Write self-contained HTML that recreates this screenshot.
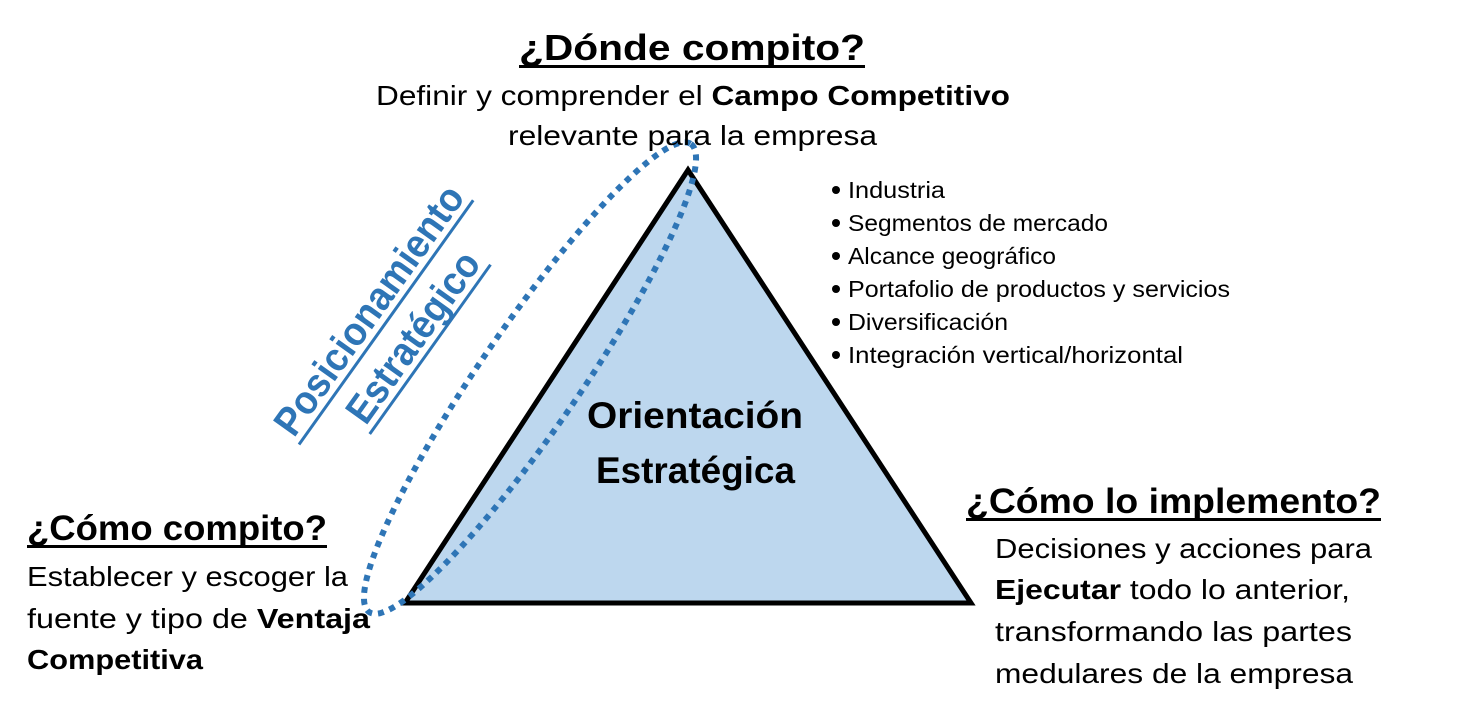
<!DOCTYPE html>
<html><head><meta charset="utf-8"><style>
html,body{margin:0;padding:0;background:#fff;}
svg{display:block;}
text{font-family:"Liberation Sans",sans-serif;fill:#000;}
</style></head><body>
<svg width="1468" height="715" viewBox="0 0 1468 715" xmlns="http://www.w3.org/2000/svg">
<polygon points="688,170 405,603 971,603" fill="#bdd7ee" stroke="#000" stroke-width="5" stroke-linejoin="miter"/>
<ellipse cx="530" cy="378" rx="284" ry="50" transform="rotate(-55.5 530 378)" fill="none" stroke="#2e75b6" stroke-width="6" stroke-dasharray="6 6"/>

<text x="519" y="60" font-size="36" font-weight="bold" textLength="346" lengthAdjust="spacingAndGlyphs">¿Dónde compito?</text>
<rect x="519" y="65" width="346" height="3"/>
<text x="376" y="105" font-size="28" textLength="634" lengthAdjust="spacingAndGlyphs">Definir y comprender el <tspan font-weight="bold">Campo Competitivo</tspan></text>
<text x="508" y="145" font-size="28" textLength="369" lengthAdjust="spacingAndGlyphs">relevante para la empresa</text>

<g font-size="23">
<circle cx="836" cy="190" r="4"/><text x="848" y="198" textLength="97" lengthAdjust="spacingAndGlyphs">Industria</text>
<circle cx="836" cy="223" r="4"/><text x="848" y="231" textLength="260" lengthAdjust="spacingAndGlyphs">Segmentos de mercado</text>
<circle cx="836" cy="256" r="4"/><text x="848" y="264" textLength="208" lengthAdjust="spacingAndGlyphs">Alcance geográfico</text>
<circle cx="836" cy="289" r="4"/><text x="848" y="297" textLength="382" lengthAdjust="spacingAndGlyphs">Portafolio de productos y servicios</text>
<circle cx="836" cy="322" r="4"/><text x="848" y="330" textLength="160" lengthAdjust="spacingAndGlyphs">Diversificación</text>
<circle cx="836" cy="355" r="4"/><text x="848" y="363" textLength="335" lengthAdjust="spacingAndGlyphs">Integración vertical/horizontal</text>
</g>

<text x="587" y="428" font-size="37" font-weight="bold" textLength="216" lengthAdjust="spacingAndGlyphs">Orientación</text>
<text x="596" y="483" font-size="37" font-weight="bold" textLength="199" lengthAdjust="spacingAndGlyphs">Estratégica</text>

<text x="966" y="513" font-size="35" font-weight="bold" textLength="415" lengthAdjust="spacingAndGlyphs">¿Cómo lo implemento?</text>
<rect x="966" y="518" width="415" height="3"/>
<g font-size="28">
<text x="995" y="558" textLength="377" lengthAdjust="spacingAndGlyphs">Decisiones y acciones para</text>
<text x="995" y="599" textLength="355" lengthAdjust="spacingAndGlyphs"><tspan font-weight="bold">Ejecutar</tspan> todo lo anterior,</text>
<text x="995" y="641" textLength="357" lengthAdjust="spacingAndGlyphs">transformando las partes</text>
<text x="995" y="683" textLength="358" lengthAdjust="spacingAndGlyphs">medulares de la empresa</text>
</g>

<text x="27" y="540" font-size="35" font-weight="bold" textLength="300" lengthAdjust="spacingAndGlyphs">¿Cómo compito?</text>
<rect x="27" y="545" width="300" height="3"/>
<g font-size="28">
<text x="27" y="586" textLength="321" lengthAdjust="spacingAndGlyphs">Establecer y escoger la</text>
<text x="27" y="628" textLength="343" lengthAdjust="spacingAndGlyphs">fuente y tipo de <tspan font-weight="bold">Ventaja</tspan></text>
<text x="27" y="669" font-weight="bold" textLength="176" lengthAdjust="spacingAndGlyphs">Competitiva</text>
</g>

<g transform="translate(380,318) rotate(-54.5)">
<text x="0" y="0" text-anchor="middle" font-size="40" font-weight="bold" style="fill:#2e75b6" textLength="296" lengthAdjust="spacingAndGlyphs">Posicionamiento</text>
<rect x="-150" y="6" width="300" height="3" fill="#2e75b6"/>
</g>
<g transform="translate(424,345) rotate(-54.5)">
<text x="0" y="0" text-anchor="middle" font-size="40" font-weight="bold" style="fill:#2e75b6" textLength="200" lengthAdjust="spacingAndGlyphs">Estratégico</text>
<rect x="-104" y="6" width="208" height="3" fill="#2e75b6"/>
</g>
</svg>
</body></html>
